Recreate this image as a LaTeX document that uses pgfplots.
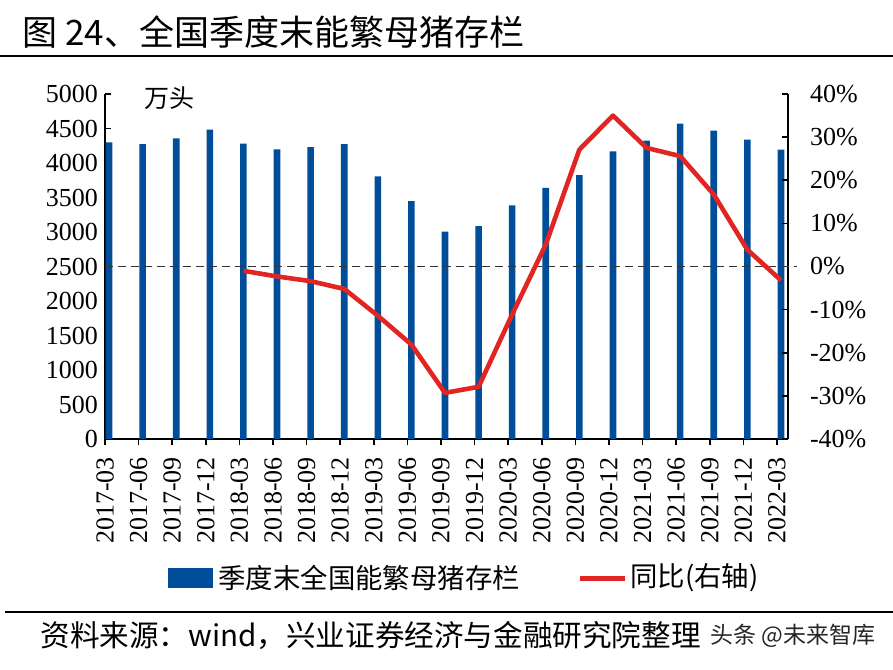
\documentclass[border=0pt]{standalone}
\usepackage{fontspec}
\setmainfont{Liberation Serif}
\newfontfamily\cjk{Noto Sans CJK SC}
\usepackage{pgfplots}
\usepackage{pgfplotstable}
\pgfplotsset{compat=1.18}
\definecolor{barblue}{RGB}{0,77,153}
\definecolor{linered}{RGB}{225,37,35}

\pgfplotstableread{
x y
0.12 4300
1.12 4275
2.12 4358
3.12 4483
4.12 4280
5.12 4198
6.12 4232
7.12 4275
8.12 3807
9.12 3449
10.12 3005
11.12 3087
12.12 3387
13.12 3638
14.12 3826
15.12 4169
16.12 4324
17.12 4570
18.12 4468
19.12 4338
20.12 4193
}\bars

\pgfplotstableread{
x y
4.12 -1.0
5.12 -2.3
6.12 -3.4
7.12 -5.2
8.12 -11.4
9.12 -18.1
10.12 -29.3
11.12 -27.9
12.12 -11.1
13.12 5.1
14.12 27.1
15.12 35.0
16.12 27.5
17.12 25.6
18.12 16.7
19.12 3.9
20.12 -3.2
}\yoy

\begin{document}
\begin{tikzpicture}
\path[use as bounding box] (0,0) rectangle (446.5pt,-334.5pt);
% title
\node[anchor=base west, inner sep=0pt] at (11pt,-22.5pt) {\cjk\fontsize{17.5}{17.5}\selectfont 图 24、全国季度末能繁母猪存栏};
\draw[line width=1pt] (0pt,-28pt) -- (446.5pt,-28pt);

\begin{axis}[
  at={(52.5pt,-219.5pt)}, anchor=south west,
  scale only axis, width=341.5pt, height=172.5pt,
  xmin=0, xmax=20.33, ymin=0, ymax=5000,
  axis x line*=bottom, axis y line*=left,
  axis line style={-, line width=0.9pt, black},
  xtick={0,...,20},
  xticklabels={2017-03,2017-06,2017-09,2017-12,2018-03,2018-06,2018-09,2018-12,2019-03,2019-06,2019-09,2019-12,2020-03,2020-06,2020-09,2020-12,2021-03,2021-06,2021-09,2021-12,2022-03},
  ytick={0,500,...,5000},
  xtick align=outside, ytick align=inside,
  major tick length=3pt,
  tick style={line width=0.8pt, black},
  /pgf/number format/assume math mode=true,
  /pgf/number format/1000 sep={},
  tick label style={font=\fontsize{13}{13}\selectfont},
  x tick label style={yshift=-2.5pt, rotate=90, anchor=east},
  clip=false,
]
\addplot[ybar, bar width=3.3pt, fill=barblue, draw=none] table[x=x,y=y] {\bars};
\end{axis}

\begin{axis}[
  at={(52.5pt,-219.5pt)}, anchor=south west,
  scale only axis, width=341.5pt, height=172.5pt,
  xmin=0, xmax=20.33, ymin=-40, ymax=40,
  axis y line*=right, axis x line=none,
  axis line style={-, line width=0.9pt, black},
  ytick={-40,-30,...,40},
  ytick align=inside,
  major tick length=3pt,
  tick style={line width=0.8pt, black},
  /pgf/number format/assume math mode=true,
  yticklabel={\pgfmathprintnumber{\tick}\%},
  yticklabel style={font=\fontsize{13}{13}\selectfont, anchor=west, xshift=7.5pt},
  clip=false,
]
\draw[dash pattern=on 4pt off 2.5pt, line width=0.5pt, black!80] (axis cs:0,0) -- (axis cs:20.6,0);
\addplot[linered, line width=2.3pt, line join=round] table[x=x,y=y] {\yoy};
\end{axis}

% unit label
\node[inner sep=0pt] at (84.5pt,-49pt) {\cjk\fontsize{12.5}{12.5}\selectfont 万头};

% legend
\fill[barblue] (84pt,-284pt) rectangle (106.5pt,-294pt);
\node[anchor=west, inner sep=0pt] at (109pt,-289pt) {\cjk\fontsize{13.7}{13.7}\selectfont 季度末全国能繁母猪存栏};
\draw[linered, line width=2.5pt] (290pt,-289pt) -- (312.5pt,-289pt);
\node[anchor=west, inner sep=0pt] at (315pt,-289pt) {\cjk\fontsize{13.7}{13.7}\selectfont 同比(右轴)};

% source
\draw[line width=1pt] (2.5pt,-306pt) -- (446.5pt,-306pt);
\node[anchor=west, inner sep=0pt] at (20pt,-318pt) {\cjk\fontsize{14.8}{14.8}\selectfont 资料来源：wind，兴业证券经济与金融研究院整理};
\node[anchor=west, inner sep=0pt, black!85] at (355pt,-318pt) {\cjk\fontsize{11.5}{11.5}\selectfont 头条 @未来智库};
\end{tikzpicture}
\end{document}
